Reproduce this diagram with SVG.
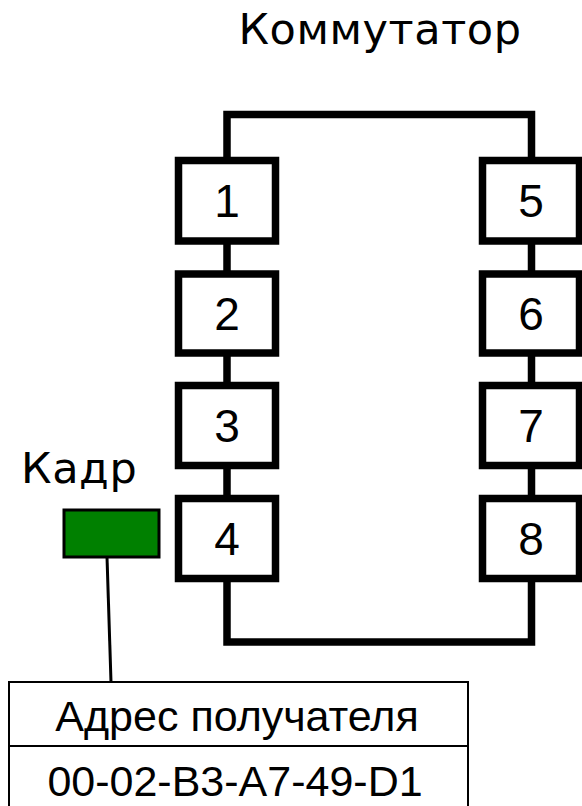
<svg xmlns="http://www.w3.org/2000/svg" width="582" height="806" viewBox="0 0 582 806">
<style>
.frame{fill:none;stroke:#000;stroke-width:7.5}
.port rect{fill:#fff;stroke:#000;stroke-width:7.5}
.port text{font-family:"Liberation Sans",Arial,sans-serif;font-size:46px;text-anchor:middle;fill:#000}
.lbl{font-family:"DejaVu Sans",Verdana,sans-serif;font-size:43px;letter-spacing:0.6px;fill:#000}
.tbl rect{fill:#fff;stroke:#000;stroke-width:2}
.tbl text{font-family:"Liberation Sans",Arial,sans-serif;font-size:43px;text-anchor:middle;fill:#000}
</style>
<rect width="582" height="806" fill="#fff"/>
<text id="title" class="lbl" x="380" y="44" text-anchor="middle">Коммутатор</text>
<g id="connectors">
<rect class="frame" x="227" y="114.5" width="304.5" height="527.5"/>
<line x1="107" y1="557" x2="111" y2="682" stroke="#000" stroke-width="3"/>
</g>
<g id="port1" class="port"><rect x="178.5" y="160.5" width="97" height="80.5"/><text x="227" y="217">1</text></g>
<g id="port2" class="port"><rect x="178.5" y="274" width="97" height="79"/><text x="227" y="330">2</text></g>
<g id="port3" class="port"><rect x="178.5" y="385.5" width="97" height="80"/><text x="227" y="442">3</text></g>
<g id="port4" class="port"><rect x="178.5" y="498.5" width="97" height="80"/><text x="227" y="555">4</text></g>
<g id="port5" class="port"><rect x="482.5" y="160.5" width="97" height="80.5"/><text x="531" y="217">5</text></g>
<g id="port6" class="port"><rect x="482.5" y="274" width="97" height="79"/><text x="531" y="330">6</text></g>
<g id="port7" class="port"><rect x="482.5" y="385.5" width="97" height="80"/><text x="531" y="442">7</text></g>
<g id="port8" class="port"><rect x="482.5" y="498.5" width="97" height="80"/><text x="531" y="555">8</text></g>
<g id="frame-label">
<text class="lbl" x="21" y="483">Кадр</text>
<rect x="64" y="510" width="95" height="47" fill="#008000" stroke="#000" stroke-width="3"/>
</g>
<g id="address" class="tbl">
<rect x="9" y="682" width="459" height="64"/>
<rect x="9" y="746" width="459" height="70"/>
<text x="237" y="731">Адрес получателя</text>
<text x="235" y="796">00-02-B3-A7-49-D1</text>
</g>
</svg>
